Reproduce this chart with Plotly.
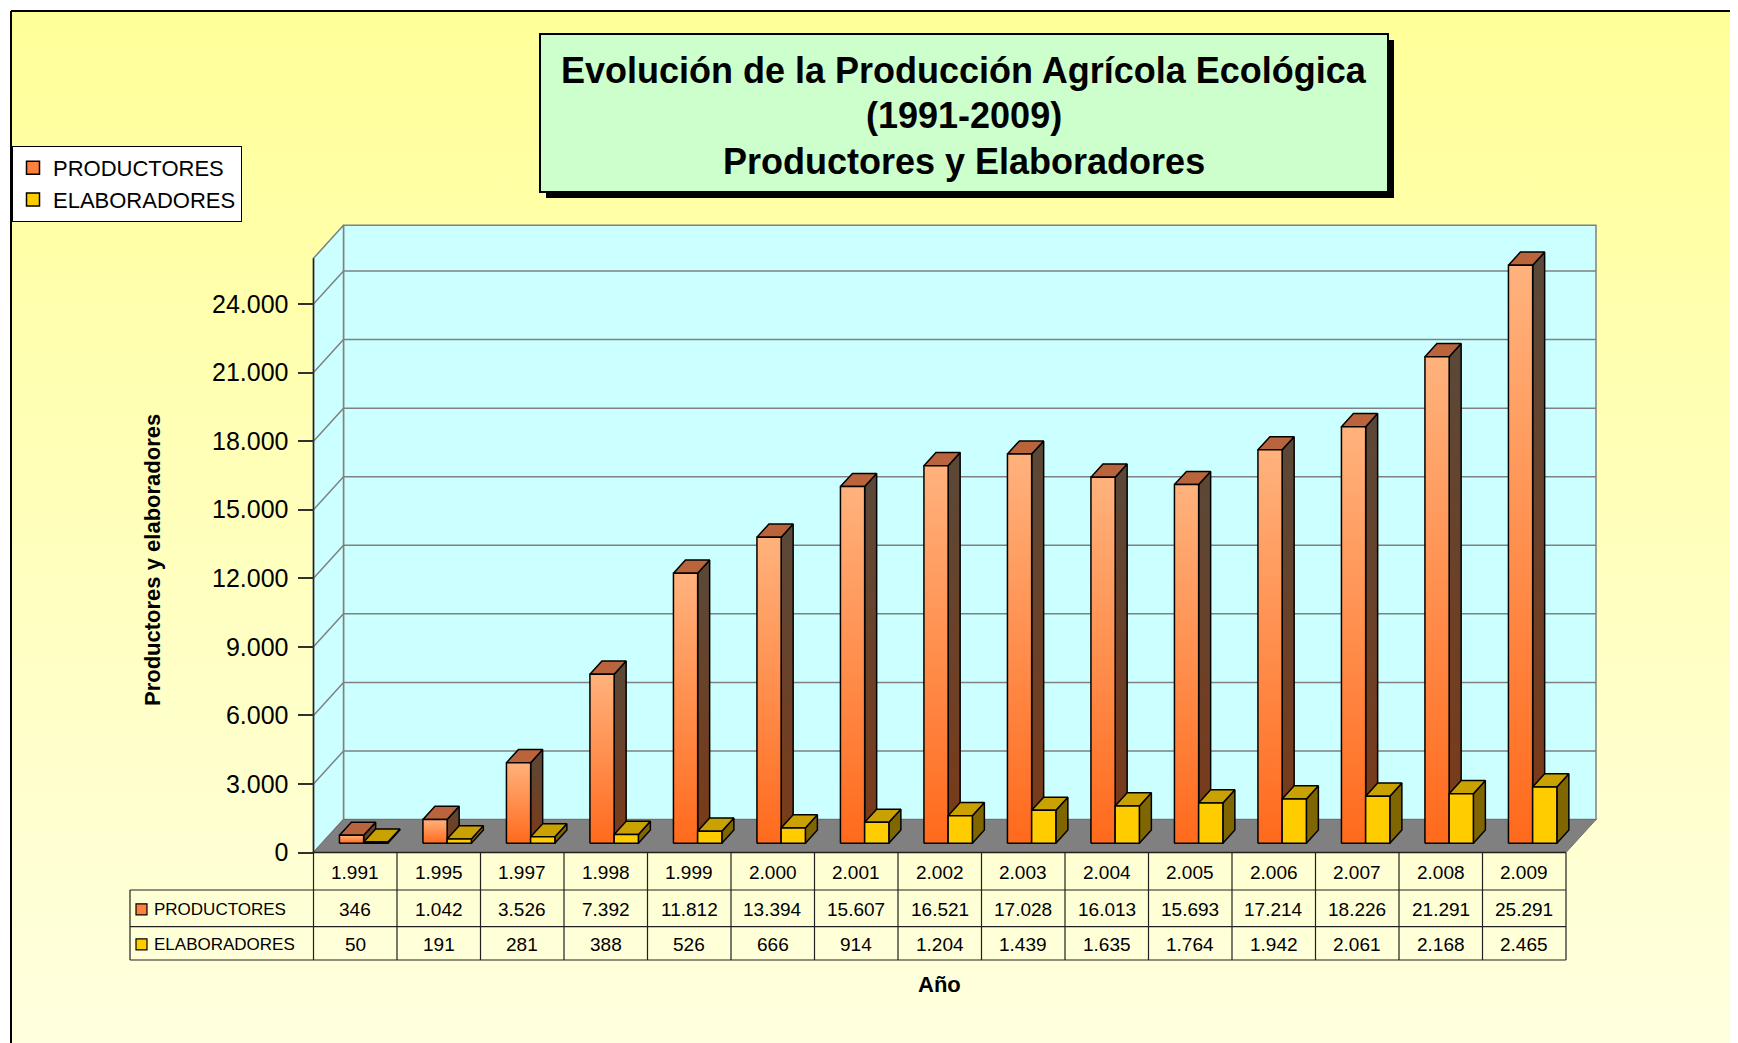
import plotly.graph_objects as go

# ---------------- data ----------------
years = [1991, 1995, 1997, 1998, 1999, 2000, 2001, 2002, 2003, 2004, 2005, 2006, 2007, 2008, 2009]
productores = [346, 1042, 3526, 7392, 11812, 13394, 15607, 16521, 17028, 16013, 15693, 17214, 18226, 21291, 25291]
elaboradores = [50, 191, 281, 388, 526, 666, 914, 1204, 1439, 1635, 1764, 1942, 2061, 2168, 2465]
ytick_vals = [0, 3000, 6000, 9000, 12000, 15000, 18000, 21000, 24000]
series_names = ["PRODUCTORES", "ELABORADORES"]
title_lines = ["Evolución de la Producción Agrícola Ecológica", "(1991-2009)", "Productores y Elaboradores"]
y_title = "Productores y elaboradores"
x_title = "Año"

# ---------------- geometry (screen pixels) ----------------
OFF = 8                  # page body margin
W, H = 1738 - OFF, 1043 - OFF
X_LEFT = 313.5           # screen pixel of category -0.5 on the front plane
CAT_PX = 83.5            # pixels per category
Y_ZERO = 852.5           # screen pixel of value 0 on the front plane
VAL_PX = 0.022854        # pixels per unit
DEPTH_X_PX, DEPTH_Y_PX = 30.0, 33.0
YMAX = 26000
BW = 0.29                # bar width (category units)
F0, F1 = 0.28, 0.68      # bar depth fraction (front, back)
FONT = "Liberation Sans, Arial, sans-serif"

x_range = [-0.5 - (X_LEFT - OFF) / CAT_PX, -0.5 + (OFF + W - X_LEFT) / CAT_PX]
y_range = [-(OFF + H - Y_ZERO) / VAL_PX, (Y_ZERO - OFF) / VAL_PX]
DX = DEPTH_X_PX / CAT_PX
DY = DEPTH_Y_PX / VAL_PX


def fmt(v):
    return f"{v:,}".replace(",", ".")


def px_x(p):
    return -0.5 + (p - X_LEFT) / CAT_PX


def px_y(p):
    return (Y_ZERO - p) / VAL_PX


def py(p):
    return 1 - (p - OFF) / H


def pxp(p):
    return (p - OFF) / W


n = len(years)
xl, xr = -0.5, n - 0.5

fig = go.Figure()


def poly(xs, ys, fillcolor=None, line_color="black", line_width=1.5, gradient=None):
    kw = dict(x=xs, y=ys, mode="lines", fill="toself",
              line=dict(color=line_color, width=line_width),
              hoverinfo="skip", showlegend=False)
    if gradient is not None:
        kw["fillgradient"] = dict(type="vertical", colorscale=gradient)
    else:
        kw["fillcolor"] = fillcolor
    fig.add_trace(go.Scatter(**kw))


# background gradient
poly([px_x(11), px_x(1745), px_x(1745), px_x(11), px_x(11)],
     [px_y(11), px_y(11), px_y(1050), px_y(1050), px_y(11)],
     line_width=0, gradient=[[0, "#FFFFE0"], [1, "#FFFF99"]])

# back wall
poly([xl + DX, xr + DX, xr + DX, xl + DX, xl + DX], [DY, DY, YMAX + DY, YMAX + DY, DY],
     fillcolor="#CCFFFF", line_color="#808080", line_width=1.5)
# side wall
poly([xl, xl + DX, xl + DX, xl, xl], [0, DY, YMAX + DY, YMAX, 0],
     fillcolor="#CCFFFF", line_color="#808080", line_width=1.5)
# gridlines
gx, gy = [], []
for v in ytick_vals[1:]:
    gx += [xl, xl + DX, xr + DX, None]
    gy += [v, v + DY, v + DY, None]
fig.add_trace(go.Scatter(x=gx, y=gy, mode="lines", line=dict(color="#808080", width=1.5),
                         hoverinfo="skip", showlegend=False))
# floor
poly([xl, xr, xr + DX, xl + DX, xl], [0, 0, DY, DY, 0],
     fillcolor="#808080", line_color="#707070", line_width=1)
# front axis line and front floor edge
fig.add_trace(go.Scatter(x=[xl, xl, None, xl, xr], y=[YMAX, 0, None, 0, 0], mode="lines",
                         line=dict(color="#202020", width=1.5), hoverinfo="skip", showlegend=False))

# bars
styles = [
    dict(front=[[0, "#FF6A1C"], [1, "#FFB27D"]], side=[[0, "#7C3A18"], [1, "#5A4838"]], top="#B9643C", dx0=-BW, dx1=0.0),
    dict(front="#FFCC00", side="#806600", top="#C9A100", dx0=0.0, dx1=BW),
]
for vals, st in zip([productores, elaboradores], styles):
    for i, v in enumerate(vals):
        x0, x1 = i + st["dx0"], i + st["dx1"]
        a0, a1 = F0 * DX, F1 * DX
        b0, b1 = F0 * DY, F1 * DY
        side_x = [x1 + a0, x1 + a1, x1 + a1, x1 + a0, x1 + a0]
        side_y = [b0, b1, v + b1, v + b0, b0]
        top_x = [x0 + a0, x1 + a0, x1 + a1, x0 + a1, x0 + a0]
        top_y = [v + b0, v + b0, v + b1, v + b1, v + b0]
        front_x = [x0 + a0, x1 + a0, x1 + a0, x0 + a0, x0 + a0]
        front_y = [b0, b0, v + b0, v + b0, b0]
        if isinstance(st["side"], list):
            poly(side_x, side_y, gradient=st["side"])
        else:
            poly(side_x, side_y, fillcolor=st["side"])
        poly(top_x, top_y, fillcolor=st["top"])
        if isinstance(st["front"], list):
            poly(front_x, front_y, gradient=st["front"])
        else:
            poly(front_x, front_y, fillcolor=st["front"])

# legend entries
legend_colors = ["#FF7F3F", "#FFCC00"]
for name, col in zip(series_names, legend_colors):
    fig.add_trace(go.Scatter(x=[None], y=[None], mode="markers", name=name,
                             marker=dict(symbol="square", size=13, color=col,
                                         line=dict(color="black", width=1.5))))

shapes = []
annotations = []


def ann(text, x, y, size, xref="paper", xanchor="center", yanchor="middle", angle=0):
    annotations.append(dict(text=text, xref=xref, yref="paper", x=x, y=y, showarrow=False,
                            xanchor=xanchor, yanchor=yanchor, textangle=angle,
                            font=dict(size=size, family=FONT, color="black")))


# frame
shapes.append(dict(type="line", xref="paper", yref="paper", x0=pxp(11), x1=pxp(11), y0=py(11), y1=py(1050),
                   line=dict(color="black", width=2), layer="above"))
shapes.append(dict(type="line", xref="paper", yref="paper", x0=pxp(11), x1=pxp(1745), y0=py(11), y1=py(11),
                   line=dict(color="black", width=2), layer="above"))

# title box with shadow
shapes.append(dict(type="rect", xref="paper", yref="paper", x0=pxp(546), x1=pxp(1394), y0=py(40), y1=py(198),
                   fillcolor="black", line=dict(width=0), layer="above"))
shapes.append(dict(type="rect", xref="paper", yref="paper", x0=pxp(540), x1=pxp(1388), y0=py(34), y1=py(192),
                   fillcolor="#CCFFCC", line=dict(color="black", width=2), layer="above"))
for txt, yp in zip(title_lines, [70, 116, 161]):
    ann(f"<b>{txt}</b>", pxp(964), py(yp), 36)

# data table
T_TOP, T_R1, T_R2, T_BOT = 852.5, 890, 926.6, 960
T_LEFT = 130
line_style = dict(color="#202020", width=1.2)
shapes.append(dict(type="line", xref="x", yref="paper", x0=xl, x1=xr, y0=py(T_TOP), y1=py(T_TOP), line=line_style, layer="above"))
for yy in [T_R1, T_R2, T_BOT]:
    shapes.append(dict(type="line", xref="x", yref="paper", x0=px_x(T_LEFT), x1=xr, y0=py(yy), y1=py(yy),
                       line=line_style, layer="above"))
for k in range(n + 1):
    shapes.append(dict(type="line", xref="x", yref="paper", x0=xl + k, x1=xl + k, y0=py(T_TOP), y1=py(T_BOT),
                       line=line_style, layer="above"))
shapes.append(dict(type="line", xref="x", yref="paper", x0=px_x(T_LEFT), x1=px_x(T_LEFT), y0=py(T_R1), y1=py(T_BOT),
                   line=line_style, layer="above"))

for i, yr in enumerate(years):
    ann(fmt(yr), i, py((T_TOP + T_R1) / 2 + 1), 19, xref="x")
for row_vals, ymid in [(productores, (T_R1 + T_R2) / 2), (elaboradores, (T_R2 + T_BOT) / 2)]:
    for i, v in enumerate(row_vals):
        ann(fmt(v), i, py(ymid + 1), 19, xref="x")
for name, col, ymid in zip(series_names, legend_colors, [(T_R1 + T_R2) / 2, (T_R2 + T_BOT) / 2]):
    shapes.append(dict(type="rect", xref="paper", yref="paper", x0=pxp(136), x1=pxp(147),
                       y0=py(ymid - 4.5), y1=py(ymid + 6.5), fillcolor=col,
                       line=dict(color="black", width=1.2), layer="above"))
    ann(name, pxp(152), py(ymid + 1), 17, xanchor="left")

# axis titles
ann(f"<b>{y_title}</b>", pxp(152), py(560), 22, angle=-90)
ann(f"<b>{x_title}</b>", pxp(940), py(984), 22)

fig.update_layout(
    width=W, height=H, autosize=False,
    margin=dict(l=0, r=0, t=0, b=0, pad=0),
    paper_bgcolor="white", plot_bgcolor="rgba(0,0,0,0)",
    hovermode=False,
    font=dict(family=FONT, color="black"),
    xaxis=dict(range=x_range, visible=False, fixedrange=True, domain=[0, 1]),
    yaxis=dict(range=y_range, anchor="free", position=pxp(X_LEFT), domain=[0, 1],
               tickvals=ytick_vals, ticktext=[fmt(v) for v in ytick_vals],
               ticks="outside", ticklen=16, tickwidth=1.5, tickcolor="#303030",
               ticklabelstandoff=4,
               showgrid=False, zeroline=False, showline=False, fixedrange=True,
               tickfont=dict(size=25, family=FONT, color="black")),
    showlegend=True,
    legend=dict(x=pxp(12), y=py(146), xanchor="left", yanchor="top",
                bgcolor="white", bordercolor="black", borderwidth=1,
                font=dict(size=22, family=FONT, color="black"), tracegroupgap=0),
    shapes=shapes,
    annotations=annotations,
)

fig.write_html("out.html")
